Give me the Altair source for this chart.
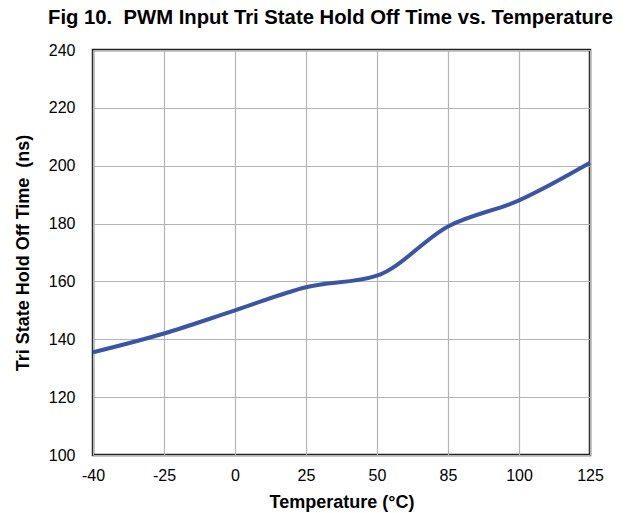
import altair as alt
import pandas as pd

temps = ["-40", "-25", "0", "25", "50", "85", "100", "125"]
hold_off_ns = [135.5, 142, 150, 158, 162, 179, 188, 201]
y_ticks = [100, 120, 140, 160, 180, 200, 220, 240]

df = pd.DataFrame({"temp": temps, "ns": hold_off_ns})

FONT = "Liberation Sans"

chart = alt.Chart(df).mark_line(
    color="#3A55A5", strokeWidth=4, interpolate="monotone"
).encode(
    x=alt.X("temp:O", sort=temps,
            scale=alt.Scale(type="point", padding=0),
            axis=alt.Axis(title="Temperature (°C)", labelAngle=0, domain=False,
                          ticks=False, labelPadding=12, labelFontSize=16,
                          labelColor="#000", labelFont=FONT,
                          grid=True, gridColor="#b4b4b4", gridWidth=1.2,
                          titleFont=FONT, titleFontSize=18, titleFontWeight="bold",
                          titleColor="#000", titleBaseline="alphabetic", titleY=52)),
    y=alt.Y("ns:Q", scale=alt.Scale(domain=[100, 240], nice=False),
            axis=alt.Axis(title="Tri State Hold Off Time\u00a0 (ns)", values=y_ticks,
                          domain=False, ticks=False, labelPadding=18,
                          labelFontSize=16, labelColor="#000", labelFont=FONT,
                          grid=True, gridColor="#b4b4b4", gridWidth=1.2,
                          titleFont=FONT, titleFontSize=18, titleFontWeight="bold",
                          titleColor="#000", titleAngle=-90, titleBaseline="alphabetic",
                          titleAlign="center", titleX=-65, titleY=202.5)),
).properties(
    width=497, height=405,
    title=alt.TitleParams("Fig 10.\u00a0 PWM Input Tri State Hold Off Time vs. Temperature",
                          anchor="start", frame="group", dx=-45, dy=12, offset=10,
                          baseline="alphabetic", font=FONT, fontSize=20.3,
                          fontWeight="bold", color="#000"),
    autosize=alt.AutoSizeParams(type="none"),
    padding={"left": 85, "top": 42, "right": 32, "bottom": 58},
).configure_view(stroke="#222", strokeWidth=2.5)

chart.save("out.html", embed_options={"renderer": "svg", "actions": False})
